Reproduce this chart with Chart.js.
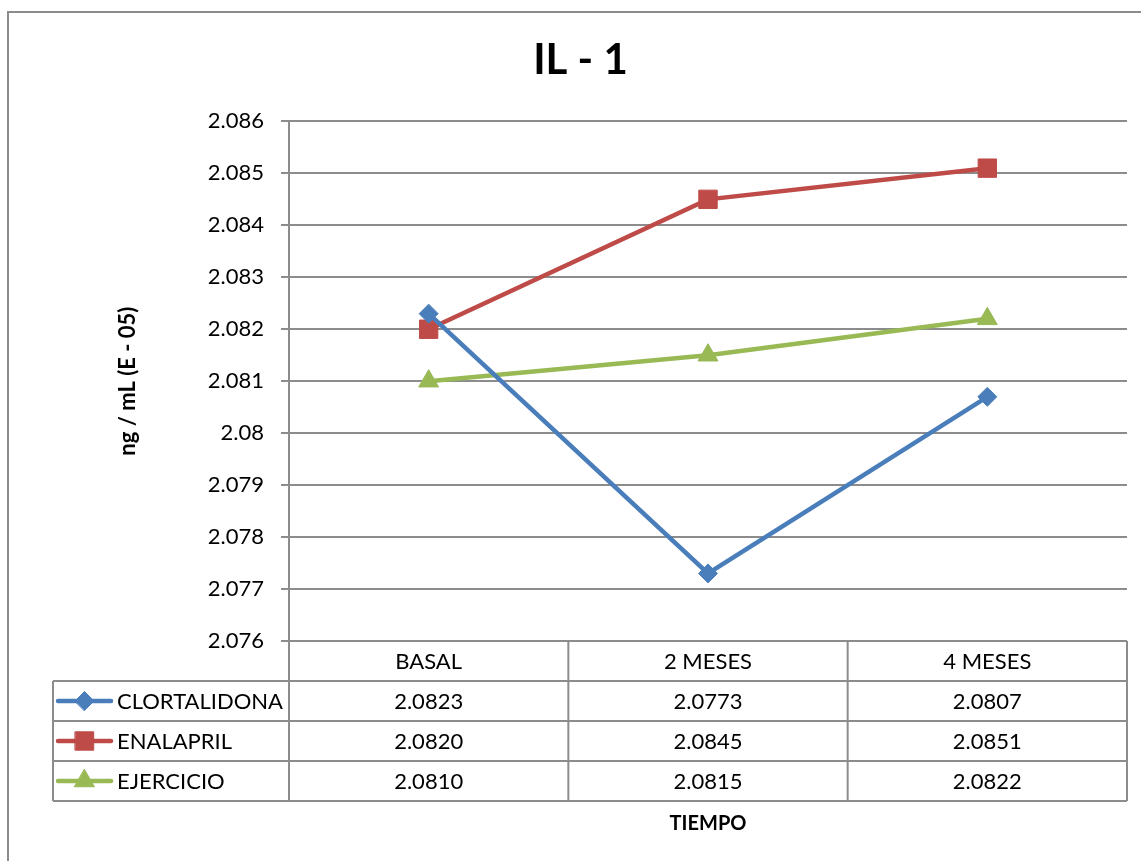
<!DOCTYPE html>
<html>
<head>
<meta charset="utf-8">
<title>IL - 1</title>
<script src="https://cdn.jsdelivr.net/npm/chart.js@4.4.0/dist/chart.umd.min.js"></script>
<style>
  body { margin: 0; background: #fff; }
  #wrap { width: 1141px; height: 861px; }
</style>
</head>
<body>
<div id="wrap"><canvas id="chart" width="1141" height="861"></canvas></div>
<script>
// time points and measured values (ng/mL, E-05)
const categories = ['BASAL', '2 MESES', '4 MESES'];
const clortalidona = [2.0823, 2.0773, 2.0807];
const enalapril = [2.0820, 2.0845, 2.0851];
const ejercicio = [2.0810, 2.0815, 2.0822];

const yMin = 2.076;
const yMax = 2.086;
const yStep = 0.001;

const gridColor = '#8c8c8c';
const fontFamily = 'Lato, "Open Sans", sans-serif';

const series = [
    { label: 'CLORTALIDONA', data: clortalidona, color: '#4A7EBB', style: 'rectRot', radius: 9.5 },
    { label: 'ENALAPRIL', data: enalapril, color: '#BE4B48', style: 'rect', radius: 13 },
    { label: 'EJERCICIO', data: ejercicio, color: '#98B954', style: 'triangle', radius: 11.5 }
];

Chart.defaults.font.family = fontFamily;
Chart.defaults.color = '#000';

function line(ctx, x1, y1, x2, y2) {
    ctx.beginPath();
    ctx.moveTo(x1, y1);
    ctx.lineTo(x2, y2);
    ctx.stroke();
}

// frame, data table under the plot and the x axis title
const dataTable = {
    id: 'dataTable',
    afterDraw(chart) {
        const ctx = chart.ctx;
        const area = chart.chartArea;
        const xScale = chart.scales.x;
        const rowH = 40;
        const legendLeft = 53;
        const top = area.bottom;
        const bottom = top + rowH * (series.length + 1);
        const colW = (area.right - area.left) / categories.length;

        ctx.save();
        ctx.strokeStyle = gridColor;
        ctx.lineWidth = 2;
        ctx.strokeRect(8, 12, 1300, 1000);

        for (let r = 1; r <= series.length + 1; r++) {
            const y = top + r * rowH;
            line(ctx, legendLeft, y, area.right, y);
        }
        line(ctx, legendLeft, top + rowH, legendLeft, bottom);
        for (let c = 0; c <= categories.length; c++) {
            const x = area.left + c * colW;
            line(ctx, x, top, x, bottom);
        }

        ctx.fillStyle = '#000';
        ctx.font = '22px ' + fontFamily;
        ctx.textBaseline = 'middle';
        ctx.textAlign = 'center';
        categories.forEach((cat, i) => {
            ctx.fillText(cat, xScale.getPixelForValue(i), top + rowH / 2 + 1);
        });

        series.forEach((s, r) => {
            const cy = top + rowH * (r + 1) + rowH / 2;
            s.data.forEach((v, i) => {
                ctx.fillStyle = '#000';
                ctx.textAlign = 'center';
                ctx.fillText(v.toFixed(4), xScale.getPixelForValue(i), cy + 1);
            });

            // legend key
            ctx.strokeStyle = s.color;
            ctx.lineWidth = 4.5;
            ctx.lineCap = 'round';
            line(ctx, 58, cy, 111, cy);
            ctx.fillStyle = s.color;
            ctx.lineWidth = 1;
            Chart.helpers.drawPoint(ctx, { pointStyle: s.style, radius: s.radius, borderWidth: 1, rotation: 0 }, 84.5, cy);

            ctx.fillStyle = '#000';
            ctx.textAlign = 'left';
            ctx.fillText(s.label, 117, cy + 1);
        });

        ctx.font = 'bold 20px ' + fontFamily;
        ctx.textAlign = 'center';
        ctx.fillText('TIEMPO', (area.left + area.right) / 2, 824);
        ctx.restore();
    }
};

new Chart(document.getElementById('chart'), {
    type: 'line',
    data: {
        labels: categories,
        datasets: series.map(s => ({
            label: s.label,
            data: s.data,
            borderColor: s.color,
            backgroundColor: s.color,
            borderWidth: 4.5,
            pointStyle: s.style,
            pointRadius: s.radius,
            pointBorderWidth: 1,
            pointBackgroundColor: s.color,
            pointBorderColor: s.color,
            tension: 0,
            fill: false
        }))
    },
    options: {
        responsive: false,
        animation: false,
        events: [],
        layout: {
            padding: { left: 34, right: 14, top: 0, bottom: 220 }
        },
        plugins: {
            legend: { display: false },
            tooltip: { enabled: false },
            title: {
                display: true,
                text: 'IL - 1',
                font: { size: 42, weight: 'bold' },
                color: '#000',
                padding: { top: 35, bottom: 36 }
            }
        },
        scales: {
            x: {
                type: 'category',
                display: false,
                offset: true
            },
            y: {
                min: yMin,
                max: yMax,
                afterFit: function(scale) {
                    scale.width = 255;
                },
                border: { display: true, color: gridColor, width: 2 },
                grid: {
                    color: gridColor,
                    lineWidth: 2,
                    tickLength: 8,
                    drawTicks: true
                },
                ticks: {
                    stepSize: yStep,
                    padding: 17,
                    font: { size: 22 },
                    color: '#000',
                    callback: function(value) {
                        return Number(value.toFixed(3)).toString();
                    }
                },
                title: {
                    display: true,
                    text: 'ng / mL (E - 05)',
                    font: { size: 22, weight: 'bold' },
                    color: '#000',
                    padding: { top: 81, bottom: 0 }
                }
            }
        }
    },
    plugins: [dataTable]
});
</script>
</body>
</html>
